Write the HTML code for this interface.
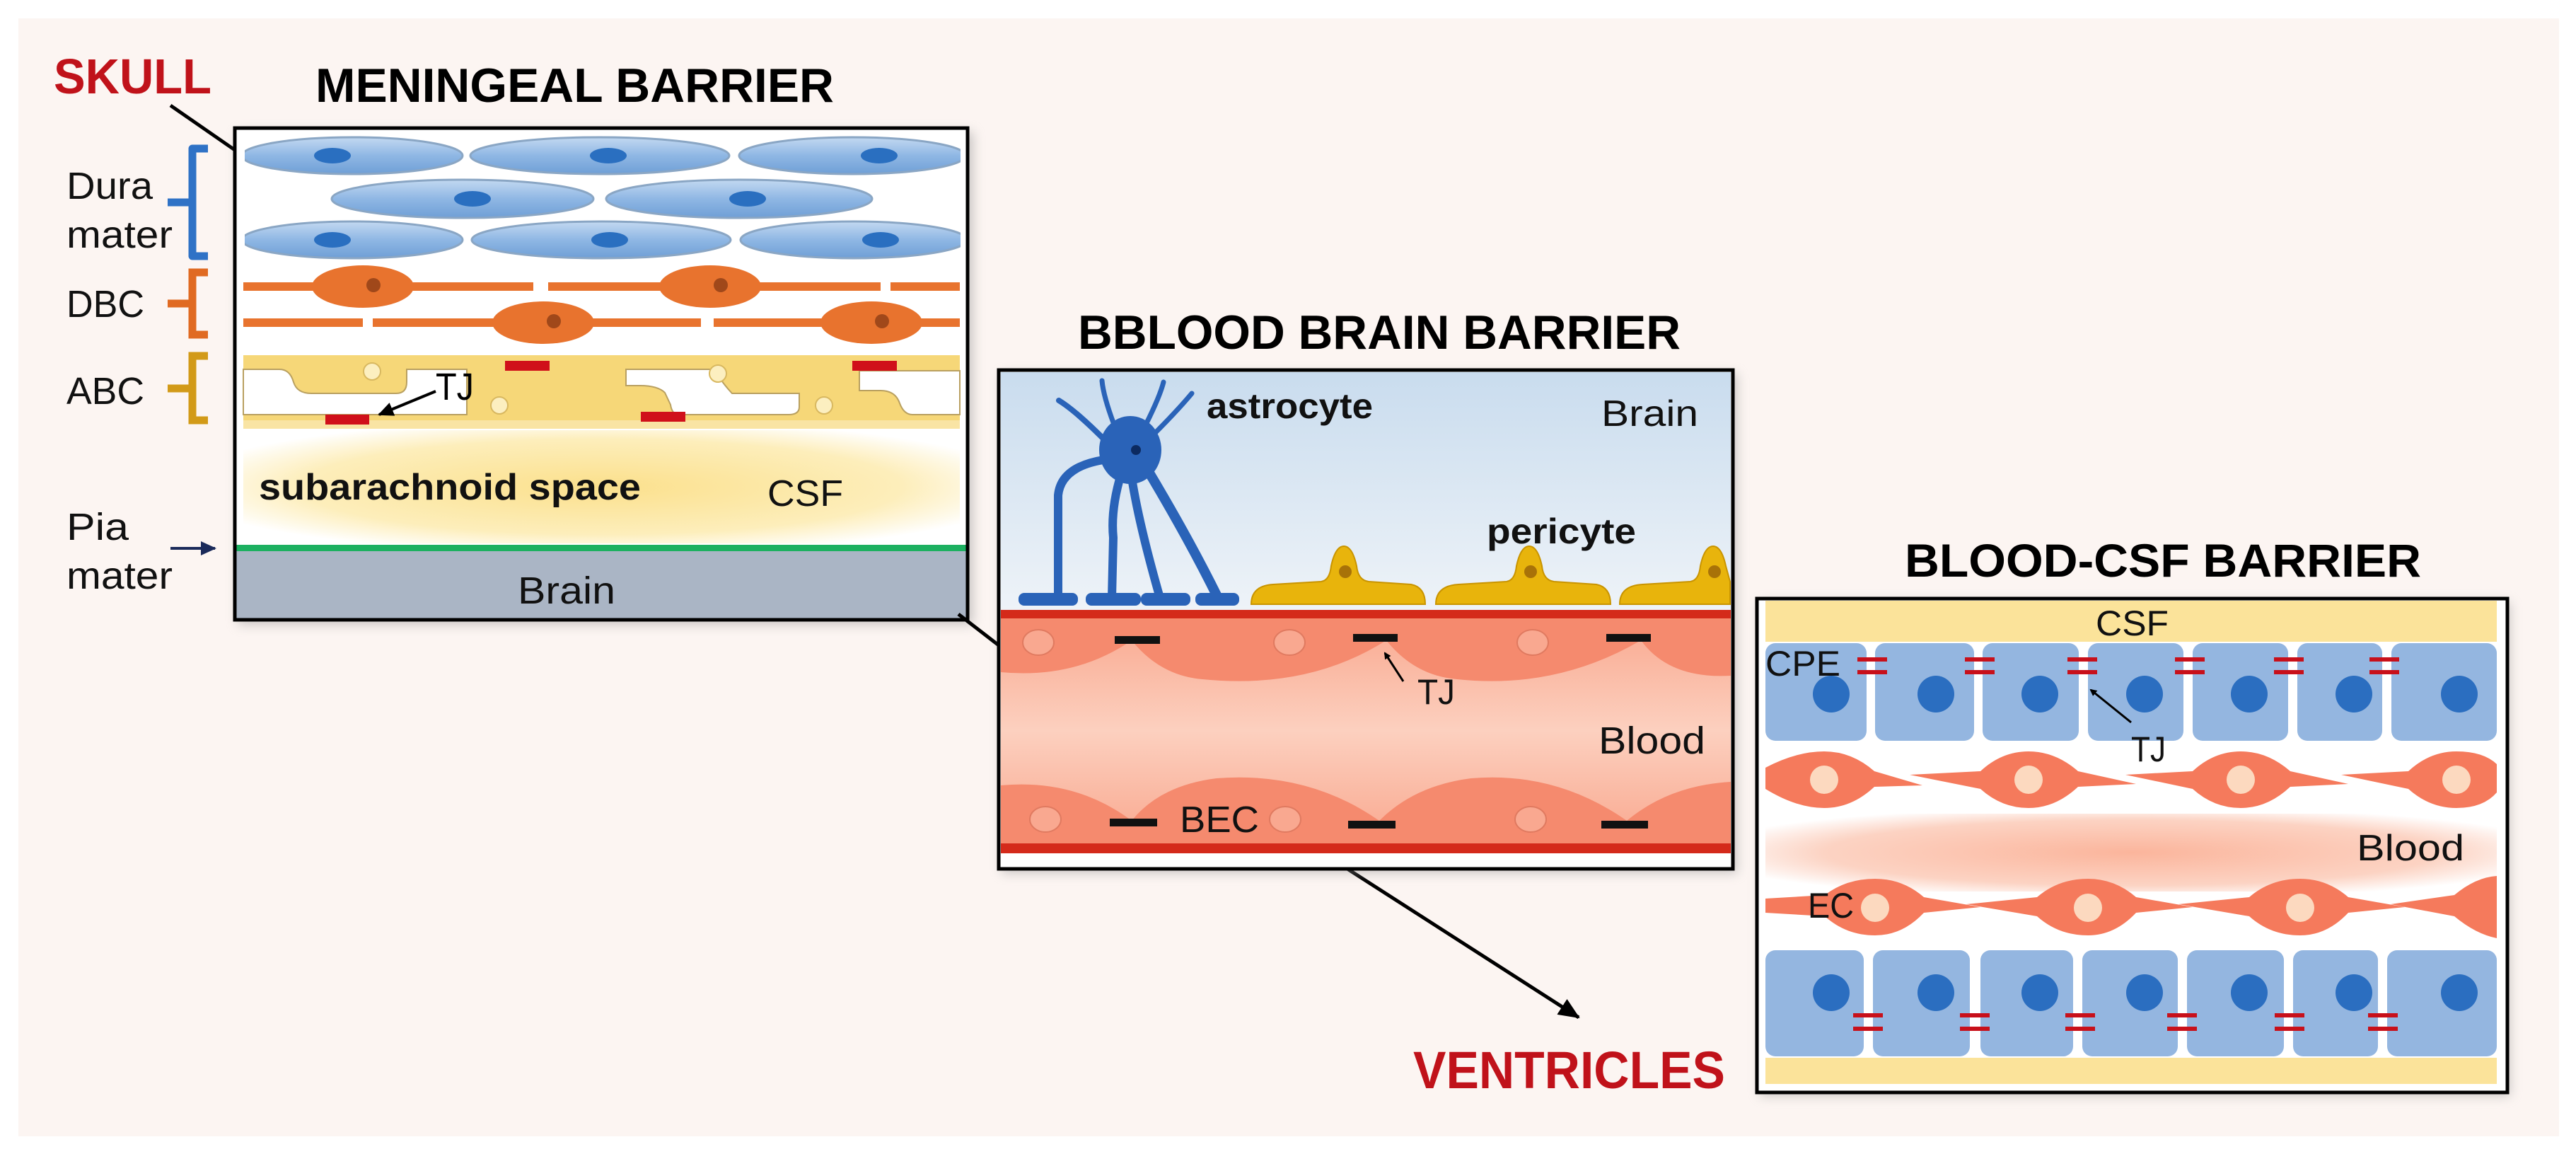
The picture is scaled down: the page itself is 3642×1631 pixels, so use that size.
<!DOCTYPE html>
<html><head><meta charset="utf-8"><style>
html,body{margin:0;padding:0;background:#fff;}
svg{display:block;}
text{font-family:"Liberation Sans",sans-serif;}
</style></head><body>
<svg width="3642" height="1631" viewBox="0 0 3642 1631" xmlns="http://www.w3.org/2000/svg">
<defs>
<linearGradient id="brainbg" x1="0" y1="0" x2="0" y2="1"><stop offset="0" stop-color="#c9dcee"/><stop offset="1" stop-color="#eef3f8"/></linearGradient>
<radialGradient id="csfglow" cx="0.5" cy="0.5" r="0.6"><stop offset="0" stop-color="#fbe08c"/><stop offset="0.7" stop-color="#fdeebb"/><stop offset="1" stop-color="#ffffff"/></radialGradient>
<radialGradient id="bloodglow" cx="0.5" cy="0.5" r="0.6"><stop offset="0" stop-color="#fbb59c"/><stop offset="0.7" stop-color="#fcd3c3"/><stop offset="1" stop-color="#ffffff"/></radialGradient>
<linearGradient id="bbbblood" x1="0" y1="0" x2="0" y2="1"><stop offset="0" stop-color="#f9a88f"/><stop offset="0.5" stop-color="#fcd0bf"/><stop offset="1" stop-color="#f9a88f"/></linearGradient>
<linearGradient id="dura" x1="0" y1="0" x2="0" y2="1"><stop offset="0" stop-color="#c3d9f1"/><stop offset="0.5" stop-color="#8fb7e4"/><stop offset="1" stop-color="#6f9fd6"/></linearGradient>
<filter id="sh" x="-5%" y="-5%" width="110%" height="110%"><feGaussianBlur stdDeviation="8"/></filter>
<marker id="ah" markerWidth="10" markerHeight="10" refX="8" refY="5" orient="auto" markerUnits="userSpaceOnUse" viewBox="0 0 10 10"><path d="M0,0 L10,5 L0,10 z" fill="#000"/></marker>
<marker id="ahb" markerWidth="30" markerHeight="26" refX="28" refY="13" orient="auto" markerUnits="userSpaceOnUse"><path d="M0,0 L30,13 L0,26 z" fill="#000"/></marker>
<marker id="ahs" markerWidth="22" markerHeight="20" refX="20" refY="10" orient="auto" markerUnits="userSpaceOnUse"><path d="M0,0 L22,10 L0,20 z" fill="#000"/></marker>
<marker id="ahn" markerWidth="22" markerHeight="20" refX="20" refY="10" orient="auto" markerUnits="userSpaceOnUse"><path d="M0,0 L22,10 L0,20 z" fill="#1a2a5a"/></marker>
</defs>
<rect x="0" y="0" width="3642" height="1631" fill="#fff"/>
<rect x="26" y="26" width="3592" height="1580" fill="#fcf5f2"/>

<!-- ===== MENINGEAL ===== -->
<text x="76" y="132" font-size="70" font-weight="bold" fill="#c0121a" textLength="223" lengthAdjust="spacingAndGlyphs">SKULL</text>
<text x="446" y="144" font-size="68" font-weight="bold" fill="#000" textLength="733" lengthAdjust="spacingAndGlyphs">MENINGEAL BARRIER</text>
<line x1="241" y1="149" x2="332" y2="212" stroke="#000" stroke-width="5"/>
<rect x="336" y="186" width="1040" height="697" fill="#999" opacity="0.5" filter="url(#sh)"/>
<rect x="332" y="181" width="1036" height="695" fill="#fff"/>
<g stroke="#8aa6c4" stroke-width="3" fill="url(#dura)">
<ellipse cx="498" cy="220" rx="156" ry="26"/><ellipse cx="848" cy="220" rx="183" ry="26"/><ellipse cx="1205" cy="220" rx="160" ry="26"/>
<ellipse cx="654" cy="281" rx="185" ry="27"/><ellipse cx="1045" cy="281" rx="188" ry="27"/>
<ellipse cx="498" cy="339" rx="156" ry="26"/><ellipse cx="850" cy="339" rx="183" ry="26"/><ellipse cx="1207" cy="339" rx="160" ry="26"/>
</g>
<g fill="#2a6fc0">
<ellipse cx="470" cy="220" rx="26" ry="11"/><ellipse cx="860" cy="220" rx="26" ry="11"/><ellipse cx="1243" cy="220" rx="26" ry="11"/>
<ellipse cx="668" cy="281" rx="26" ry="11"/><ellipse cx="1057" cy="281" rx="26" ry="11"/>
<ellipse cx="470" cy="339" rx="26" ry="11"/><ellipse cx="862" cy="339" rx="26" ry="11"/><ellipse cx="1245" cy="339" rx="26" ry="11"/>
</g>
<rect x="336" y="198" width="10" height="170" fill="#fff"/><rect x="1358" y="198" width="10" height="170" fill="#fff"/>
<g fill="#e8732e">
<rect x="344" y="399" width="410" height="12"/><rect x="775" y="399" width="470" height="12"/><rect x="1259" y="399" width="98" height="12"/>
<rect x="344" y="450" width="169" height="12"/><rect x="527" y="450" width="464" height="12"/><rect x="1009" y="450" width="348" height="12"/>
<ellipse cx="513" cy="405" rx="72" ry="30"/><ellipse cx="1004" cy="405" rx="72" ry="30"/>
<ellipse cx="768" cy="456" rx="72" ry="30"/><ellipse cx="1232" cy="456" rx="72" ry="30"/>
</g>
<g fill="#a0481a"><circle cx="528" cy="403" r="10"/><circle cx="1019" cy="403" r="10"/><circle cx="783" cy="454" r="10"/><circle cx="1247" cy="454" r="10"/></g>
<!-- ABC -->
<rect x="344" y="502" width="1013" height="104" fill="#f6d778"/>
<rect x="344" y="594" width="1013" height="12" fill="#f9e4a4"/>
<g fill="#fff" stroke="#b9a060" stroke-width="2">
<path d="M344,522 L395,522 Q410,522 415,540 Q420,556 440,556 L560,556 Q575,556 575,540 L575,522 L660,522 L660,586 L520,586 L344,586 Z"/>
<path d="M700,548 L790,548 Q810,548 815,565 Q820,583 845,583 L960,583 L960,560 Q958,548 940,548 L905,540 L900,522 L1200,522 L1200,540 Q1170,556 1120,556 L1100,556 Q1080,556 1075,540 L1068,522 L1020,522 Q1000,522 995,540 L990,560 Q985,586 960,586 L700,586 Z" fill="none" stroke="none"/>
<path d="M885,522 L1010,522 Q1020,540 1035,556 L1130,556 L1130,575 Q1130,586 1115,586 L960,586 Q950,586 948,572 L940,555 Q930,545 905,545 L885,545 Z"/>
<path d="M1215,524 L1357,524 L1357,586 L1290,586 Q1278,586 1272,570 Q1266,552 1245,552 L1215,552 Z"/>
</g>
<circle cx="526" cy="525" r="12" fill="#fcefc0" stroke="#d8b860" stroke-width="2"/><circle cx="1015" cy="528" r="12" fill="#fcefc0" stroke="#d8b860" stroke-width="2"/>
<circle cx="706" cy="573" r="12" fill="#fcefc0" stroke="#d8b860" stroke-width="2"/><circle cx="1165" cy="573" r="12" fill="#fcefc0" stroke="#d8b860" stroke-width="2"/>
<g fill="#d0101a"><rect x="714" y="510" width="63" height="14"/><rect x="1205" y="510" width="63" height="14"/><rect x="460" y="586" width="62" height="14"/><rect x="906" y="582" width="63" height="14"/></g>
<line x1="616" y1="553" x2="536" y2="586" stroke="#000" stroke-width="4" marker-end="url(#ahs)"/>
<text x="616" y="565" font-size="54" fill="#000" textLength="54" lengthAdjust="spacingAndGlyphs">TJ</text>
<rect x="344" y="608" width="1013" height="160" fill="url(#csfglow)"/>
<text x="366" y="706" font-size="52" font-weight="bold" fill="#111" textLength="540" lengthAdjust="spacingAndGlyphs">subarachnoid space</text>
<text x="1085" y="715" font-size="52" fill="#111" textLength="107" lengthAdjust="spacingAndGlyphs">CSF</text>
<rect x="334" y="770" width="1032" height="9" fill="#1cb060"/>
<rect x="334" y="779" width="1032" height="95" fill="#aab5c5"/>
<text x="732" y="853" font-size="54" fill="#111" textLength="138" lengthAdjust="spacingAndGlyphs">Brain</text>
<rect x="332" y="181" width="1036" height="695" fill="none" stroke="#000" stroke-width="5"/>
<!-- left labels -->
<g font-size="54" fill="#111">
<text x="94" y="281" textLength="122" lengthAdjust="spacingAndGlyphs">Dura</text>
<text x="94" y="350" textLength="150" lengthAdjust="spacingAndGlyphs">mater</text>
<text x="94" y="448" textLength="110" lengthAdjust="spacingAndGlyphs">DBC</text>
<text x="94" y="571" textLength="110" lengthAdjust="spacingAndGlyphs">ABC</text>
<text x="94" y="763" textLength="88" lengthAdjust="spacingAndGlyphs">Pia</text>
<text x="94" y="832" textLength="150" lengthAdjust="spacingAndGlyphs">mater</text>
</g>
<path d="M294,210 L272,210 L272,362 L294,362 M272,286 L237,286" stroke="#2f72c6" stroke-width="11" fill="none" stroke-linejoin="round"/>
<path d="M294,385 L272,385 L272,473 L294,473 M272,429 L237,429" stroke="#e06a22" stroke-width="11" fill="none"/>
<path d="M294,503 L272,503 L272,594 L294,594 M272,549 L237,549" stroke="#d29a18" stroke-width="11" fill="none"/>
<line x1="241" y1="775" x2="304" y2="775" stroke="#1a2a5a" stroke-width="4" marker-end="url(#ahn)"/>

<!-- connectors -->
<line x1="1355" y1="868" x2="1412" y2="912" stroke="#000" stroke-width="5"/>
<line x1="1905" y1="1228" x2="2232" y2="1438" stroke="#000" stroke-width="5" marker-end="url(#ahb)"/>
<text x="1998" y="1538" font-size="74" font-weight="bold" fill="#c0121a" textLength="441" lengthAdjust="spacingAndGlyphs">VENTRICLES</text>

<!-- ===== BBB ===== -->
<text x="1524" y="493" font-size="68" font-weight="bold" fill="#000" textLength="852" lengthAdjust="spacingAndGlyphs">BBLOOD BRAIN BARRIER</text>
<rect x="1416" y="528" width="1040" height="706" fill="#999" opacity="0.5" filter="url(#sh)"/>
<rect x="1412" y="523" width="1038" height="705" fill="#fff"/>
<rect x="1415" y="526" width="1032" height="336" fill="url(#brainbg)"/>
<g fill="#e8b40c" stroke="#c99400" stroke-width="2">
<path d="M1769,854 Q1769,828 1800,826 L1868,822 Q1880,820 1882,800 Q1888,772 1900,772 Q1912,772 1918,800 Q1920,820 1935,822 L1995,826 Q2015,830 2015,854 Z"/>
<path d="M2030,854 Q2030,828 2062,826 L2130,822 Q2142,820 2144,800 Q2150,772 2162,772 Q2174,772 2180,800 Q2182,820 2197,822 L2257,826 Q2277,830 2277,854 Z"/>
<path d="M2290,854 Q2290,828 2322,826 L2390,822 Q2402,820 2404,800 Q2410,772 2422,772 Q2434,772 2440,800 L2446,822 L2446,854 Z"/>
</g>
<g fill="#a87208"><circle cx="1902" cy="808" r="9"/><circle cx="2164" cy="808" r="9"/><circle cx="2424" cy="808" r="9"/></g>
<!-- astrocyte -->
<g stroke="#2a63b8" fill="none" stroke-linecap="round">
<path d="M1560,620 Q1520,580 1497,566" stroke-width="8"/>
<path d="M1575,600 Q1560,560 1558,538" stroke-width="7"/>
<path d="M1620,600 Q1640,560 1645,540" stroke-width="7"/>
<path d="M1630,615 Q1665,580 1685,556" stroke-width="7"/>
<path d="M1560,650 Q1500,660 1496,700 L1496,845" stroke-width="12"/>
<path d="M1585,670 Q1570,720 1574,760 L1572,845" stroke-width="12"/>
<path d="M1600,675 Q1610,740 1640,845" stroke-width="12"/>
<path d="M1620,660 Q1680,760 1722,845" stroke-width="14"/>
</g>
<g fill="#2a63b8">
<rect x="1440" y="838" width="84" height="18" rx="8"/><rect x="1535" y="838" width="78" height="18" rx="8"/><rect x="1613" y="838" width="70" height="18" rx="8"/><rect x="1690" y="838" width="62" height="18" rx="8"/>
<ellipse cx="1598" cy="636" rx="44" ry="48"/>
</g>
<circle cx="1606" cy="636" r="7" fill="#0c2a60"/>
<text x="1706" y="591" font-size="50" font-weight="bold" fill="#111" textLength="235" lengthAdjust="spacingAndGlyphs">astrocyte</text>
<text x="2264" y="602" font-size="52" fill="#111" textLength="137" lengthAdjust="spacingAndGlyphs">Brain</text>
<text x="2102" y="768" font-size="50" font-weight="bold" fill="#111" textLength="211" lengthAdjust="spacingAndGlyphs">pericyte</text>
<!-- vessel -->
<rect x="1415" y="862" width="1032" height="12" fill="#d42a1a"/>
<rect x="1415" y="874" width="1032" height="318" fill="url(#bbbblood)"/>
<path d="M1415,874 L2447,874 L2447,955 Q2360,960 2320,905 Q2200,975 2060,960 Q2000,955 1960,905 Q1850,975 1700,960 Q1640,955 1600,905 Q1520,960 1415,950 Z" fill="#f58a6e"/>
<path d="M1415,1192 L2447,1192 L2447,1105 Q2360,1110 2300,1160 Q2200,1090 2080,1100 Q2000,1110 1950,1160 Q1850,1090 1720,1100 Q1640,1110 1600,1160 Q1520,1100 1415,1110 Z" fill="#f58a6e"/>
<g fill="#f9a890" stroke="#e07a60" stroke-width="2">
<ellipse cx="1468" cy="908" rx="22" ry="18"/><ellipse cx="1823" cy="908" rx="22" ry="18"/><ellipse cx="2167" cy="908" rx="22" ry="18"/>
<ellipse cx="1478" cy="1158" rx="22" ry="18"/><ellipse cx="1817" cy="1158" rx="22" ry="18"/><ellipse cx="2164" cy="1158" rx="22" ry="18"/>
</g>
<g fill="#111"><rect x="1576" y="899" width="64" height="11"/><rect x="1913" y="896" width="63" height="11"/><rect x="2271" y="896" width="63" height="11"/>
<rect x="1569" y="1157" width="67" height="11"/><rect x="1906" y="1160" width="67" height="11"/><rect x="2264" y="1160" width="66" height="11"/></g>
<rect x="1415" y="1192" width="1032" height="14" fill="#d42a1a"/>
<line x1="1984" y1="963" x2="1958" y2="923" stroke="#000" stroke-width="3" marker-end="url(#ah)"/>
<text x="2004" y="995" font-size="50" fill="#111" textLength="53" lengthAdjust="spacingAndGlyphs">TJ</text>
<text x="2260" y="1065" font-size="54" fill="#111" textLength="151" lengthAdjust="spacingAndGlyphs">Blood</text>
<text x="1668" y="1176" font-size="52" fill="#111" textLength="112" lengthAdjust="spacingAndGlyphs">BEC</text>
<rect x="1412" y="523" width="1038" height="705" fill="none" stroke="#000" stroke-width="5"/>

<!-- ===== BLOOD-CSF ===== -->
<text x="2693" y="815" font-size="66" font-weight="bold" fill="#000" textLength="730" lengthAdjust="spacingAndGlyphs">BLOOD-CSF BARRIER</text>
<rect x="2488" y="851" width="1061" height="698" fill="#999" opacity="0.5" filter="url(#sh)"/>
<rect x="2484" y="846" width="1061" height="698" fill="#fff"/>
<rect x="2496" y="849" width="1034" height="58" fill="#fbe39a"/>
<text x="2963" y="898" font-size="50" fill="#111" textLength="103" lengthAdjust="spacingAndGlyphs">CSF</text>
<g fill="#94b6e0">
<rect x="2496" y="909" width="143" height="138" rx="14"/><rect x="2651" y="909" width="140" height="138" rx="14"/><rect x="2803" y="909" width="136" height="138" rx="14"/><rect x="2952" y="909" width="135" height="138" rx="14"/><rect x="3100" y="909" width="135" height="138" rx="14"/><rect x="3248" y="909" width="120" height="138" rx="14"/><rect x="3381" y="909" width="149" height="138" rx="14"/>
<rect x="2496" y="1343" width="139" height="150" rx="14"/><rect x="2648" y="1343" width="137" height="150" rx="14"/><rect x="2800" y="1343" width="131" height="150" rx="14"/><rect x="2944" y="1343" width="135" height="150" rx="14"/><rect x="3092" y="1343" width="137" height="150" rx="14"/><rect x="3242" y="1343" width="120" height="150" rx="14"/><rect x="3375" y="1343" width="155" height="150" rx="14"/>
</g>
<rect x="2496" y="1495" width="1034" height="37" fill="#fbe39a"/>
<g fill="#2b6ec0">
<circle cx="2589" cy="981" r="26"/><circle cx="2737" cy="981" r="26"/><circle cx="2884" cy="981" r="26"/><circle cx="3032" cy="981" r="26"/><circle cx="3180" cy="981" r="26"/><circle cx="3328" cy="981" r="26"/><circle cx="3477" cy="981" r="26"/>
<circle cx="2589" cy="1403" r="26"/><circle cx="2737" cy="1403" r="26"/><circle cx="2884" cy="1403" r="26"/><circle cx="3032" cy="1403" r="26"/><circle cx="3180" cy="1403" r="26"/><circle cx="3328" cy="1403" r="26"/><circle cx="3477" cy="1403" r="26"/>
</g>
<g fill="#c8101a">
<rect x="2626" y="929" width="42" height="6"/><rect x="2626" y="947" width="42" height="6"/>
<rect x="2778" y="929" width="42" height="6"/><rect x="2778" y="947" width="42" height="6"/>
<rect x="2923" y="929" width="42" height="6"/><rect x="2923" y="947" width="42" height="6"/>
<rect x="3075" y="929" width="42" height="6"/><rect x="3075" y="947" width="42" height="6"/>
<rect x="3215" y="929" width="42" height="6"/><rect x="3215" y="947" width="42" height="6"/>
<rect x="3350" y="929" width="42" height="6"/><rect x="3350" y="947" width="42" height="6"/>
<rect x="2620" y="1432" width="42" height="6"/><rect x="2620" y="1451" width="42" height="6"/>
<rect x="2771" y="1432" width="42" height="6"/><rect x="2771" y="1451" width="42" height="6"/>
<rect x="2920" y="1432" width="42" height="6"/><rect x="2920" y="1451" width="42" height="6"/>
<rect x="3064" y="1432" width="42" height="6"/><rect x="3064" y="1451" width="42" height="6"/>
<rect x="3216" y="1432" width="42" height="6"/><rect x="3216" y="1451" width="42" height="6"/>
<rect x="3348" y="1432" width="42" height="6"/><rect x="3348" y="1451" width="42" height="6"/>
</g>
<text x="2496" y="955" font-size="50" fill="#111" textLength="106" lengthAdjust="spacingAndGlyphs">CPE</text>
<line x1="3013" y1="1021" x2="2956" y2="975" stroke="#000" stroke-width="3" marker-end="url(#ah)"/>
<text x="3013" y="1076" font-size="50" fill="#111" textLength="49" lengthAdjust="spacingAndGlyphs">TJ</text>
<rect x="2496" y="1150" width="1034" height="110" fill="url(#bloodglow)"/>
<g fill="#f57a5c">
<path d="M2496,1085 Q2540,1062 2579,1062 Q2618,1062 2650,1090 L2718,1110 L2650,1112 Q2618,1142 2579,1142 Q2540,1142 2496,1115 Z"/>
<path d="M2700,1095 L2800,1090 Q2830,1062 2868,1062 Q2906,1062 2938,1090 L3020,1108 L2938,1112 Q2906,1142 2868,1142 Q2830,1142 2800,1115 Z"/>
<path d="M3005,1095 L3100,1090 Q3130,1062 3168,1062 Q3206,1062 3238,1090 L3320,1108 L3238,1112 Q3206,1142 3168,1142 Q3130,1142 3100,1115 Z"/>
<path d="M3310,1095 L3405,1090 Q3435,1062 3473,1062 Q3511,1062 3530,1080 L3530,1120 Q3511,1142 3473,1142 Q3435,1142 3405,1115 Z"/>
<path d="M2496,1270 L2580,1265 Q2610,1242 2651,1242 Q2690,1242 2720,1268 L2800,1282 L2720,1290 Q2690,1322 2651,1322 Q2610,1322 2580,1295 L2496,1290 Z"/>
<path d="M2780,1278 L2880,1268 Q2910,1242 2952,1242 Q2990,1242 3020,1268 L3100,1282 L3020,1290 Q2990,1322 2952,1322 Q2910,1322 2880,1295 Z"/>
<path d="M3080,1278 L3180,1268 Q3210,1242 3252,1242 Q3290,1242 3320,1268 L3400,1282 L3320,1290 Q3290,1322 3252,1322 Q3210,1322 3180,1295 Z"/>
<path d="M3380,1278 L3470,1265 Q3500,1240 3530,1238 L3530,1326 Q3500,1320 3470,1295 Z"/>
</g>
<g fill="#fcd9bf"><circle cx="2579" cy="1102" r="20"/><circle cx="2868" cy="1102" r="20"/><circle cx="3168" cy="1102" r="20"/><circle cx="3473" cy="1102" r="20"/>
<circle cx="2651" cy="1283" r="20"/><circle cx="2952" cy="1283" r="20"/><circle cx="3252" cy="1283" r="20"/></g>
<text x="3332" y="1216" font-size="52" fill="#111" textLength="152" lengthAdjust="spacingAndGlyphs">Blood</text>
<text x="2556" y="1297" font-size="50" fill="#111" textLength="65" lengthAdjust="spacingAndGlyphs">EC</text>
<rect x="2484" y="846" width="1061" height="698" fill="none" stroke="#000" stroke-width="5"/>
</svg>
</body></html>
